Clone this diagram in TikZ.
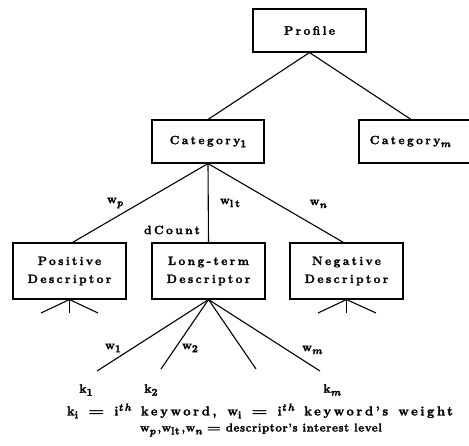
\documentclass[tikz,border=0pt]{standalone}
\usepackage{fontspec}
\setmainfont{Latin Modern Roman}
\newcommand\lbl{\fontsize{12}{18}\selectfont\bfseries\addfontfeatures{LetterSpace=20,FakeBold=2}}
\newcommand\sbs[1]{\raisebox{-3pt}{\fontsize{10.5}{10}\selectfont #1}}
\newcommand\sbi[1]{\raisebox{-3pt}{\fontsize{10.5}{10}\selectfont\itshape #1}}
\newcommand\sps[1]{\raisebox{4.5pt}{\fontsize{10.5}{10}\selectfont\itshape #1}}
\newcommand\eqq{\scalebox{1.4}[1]{=}}
\tikzset{
  box/.style={draw, line width=1.1pt, inner sep=0pt, align=center, font=\lbl},
  conn/.style={line width=1.1pt},
  lab/.style={inner sep=0pt, font=\lbl},
}
\begin{document}
\begin{tikzpicture}[x=1pt,y=-1pt]
\useasboundingbox (0,0) rectangle (469,445);
% boxes
\node[box, minimum width=113pt, minimum height=43pt] (prof) at (309.5,30.5) {Profile};
\node[box, minimum width=112pt, minimum height=43pt] (cat1) at (208,141.5) {Category\sbs{1}};
\node[box, minimum width=114pt, minimum height=43pt] (catm) at (416,141.5) {\hspace*{-6pt}Category\sbi{m}\hspace*{6pt}};
\node[box, minimum width=113pt, minimum height=56pt] (pos) at (69.5,271) {Positive\\Descriptor};
\node[box, minimum width=113pt, minimum height=56pt] (lt) at (208.5,271) {Long-term\\Descriptor};
\node[box, minimum width=113pt, minimum height=56pt] (neg) at (346.5,271) {Negative\\Descriptor};
% top connectors
\draw[conn] (prof.south) -- (cat1.north);
\draw[conn] (prof.south) -- ([xshift=-5pt]catm.north);
\draw[conn] (cat1.south) -- ([xshift=3pt]pos.north);
\draw[conn] (cat1.south) -- (lt.north);
\draw[conn] (cat1.south) -- ([xshift=-3pt]neg.north);
% labels on descriptor edges
\node[lab] (lwp) at (115,203) {w\sbi{p}};
\node[lab] (lwlt) at (230,203) {w\sbs{lt}};
\node[lab] (lwn) at (318,204) {w\sbi{n}};
\node[lab] (ldc) at (172,230) {dCount};
% stubs under positive and negative
\coordinate (p1) at (41,313);
\coordinate (p2) at (69.5,313);
\coordinate (p3) at (98,313);
\coordinate (n1) at (318,313);
\coordinate (n2) at (346.5,313);
\coordinate (n3) at (376,313);
\draw[conn] (pos.south) -- (p1);
\draw[conn] (pos.south) -- (p2);
\draw[conn] (pos.south) -- (p3);
\draw[conn] (neg.south) -- (n1);
\draw[conn] (neg.south) -- (n2);
\draw[conn] (neg.south) -- (n3);
% keyword edges
\coordinate (e1) at (97,371);
\coordinate (e2) at (161,369);
\coordinate (e3) at (256,369);
\coordinate (e4) at (320,371);
\draw[conn] (lt.south) -- (e1);
\draw[conn] (lt.south) -- (e2);
\draw[conn] (lt.south) -- (e3);
\draw[conn] (lt.south) -- (e4);
\node[lab] (lw1) at (113,348) {w\sbs{1}};
\node[lab] (lw2) at (190,348) {w\sbs{2}};
\node[lab] (lwm) at (312,350) {w\sbi{m}};
\node[lab] (k1) at (86,390) {k\sbs{1}};
\node[lab] (k2) at (151,390) {k\sbs{2}};
\node[lab] (km) at (332,390) {k\sbi{m}};
% caption
\node[lab] (cap1) at (260,411) {\fontsize{13}{16}\selectfont\makebox[386pt][s]{k\sbs{i} \eqq{} i\sps{th} keyword, w\sbs{i} \eqq{} i\sps{th} keyword's weight}};
\node[lab] (cap2) at (261,430) {\fontsize{11.5}{16}\selectfont\addfontfeatures{LetterSpace=5}w\sbi{p}\,,w\sbs{lt}\,,w\sbi{n} \eqq{} descriptor's interest level};
\end{tikzpicture}
\end{document}
